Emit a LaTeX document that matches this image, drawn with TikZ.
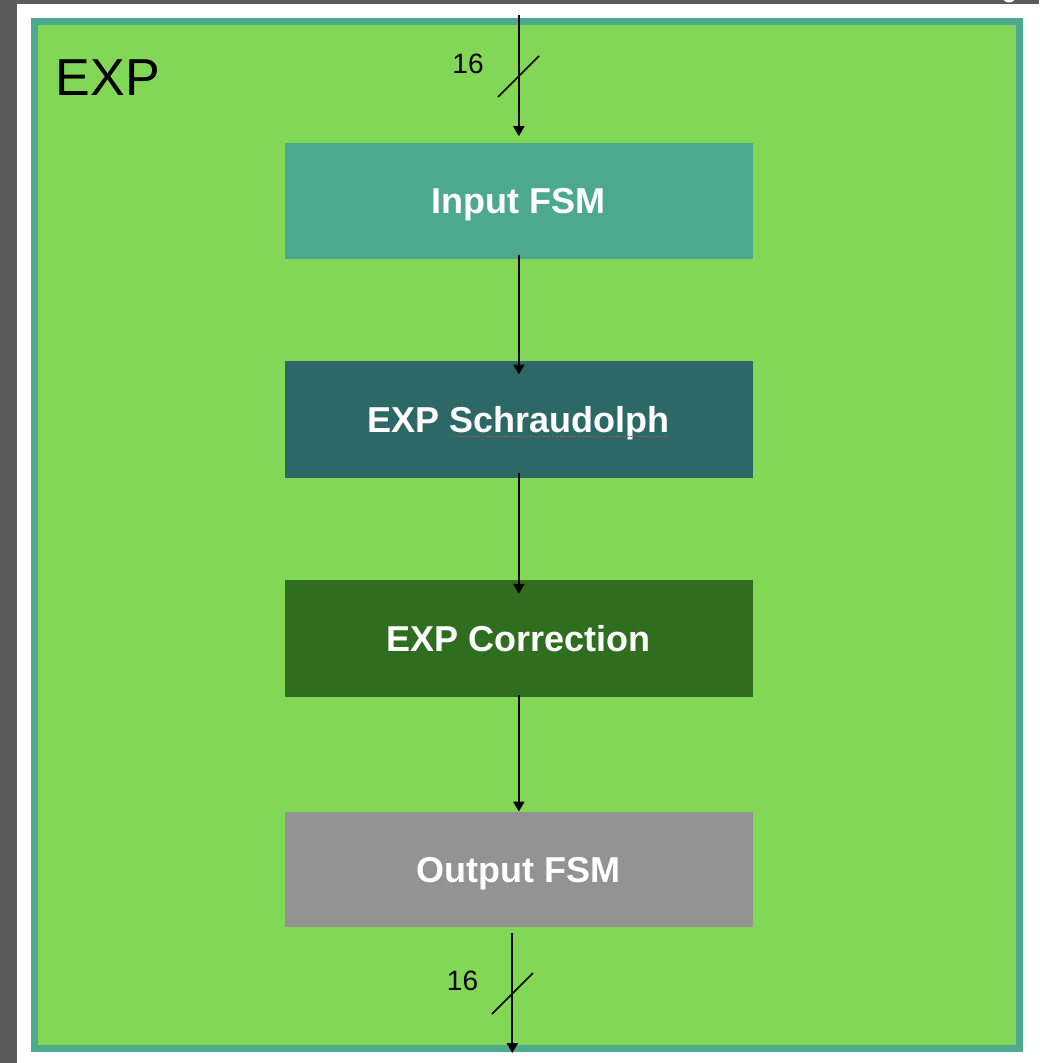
\documentclass[tikz,border=0pt]{standalone}
\usepackage{fontspec}
\setmainfont{Liberation Sans}
\usetikzlibrary{arrows.meta}

\definecolor{framegray}{HTML}{5B5B5B}
\definecolor{outline}{HTML}{4EAA8F}
\definecolor{expbg}{HTML}{83D756}
\definecolor{fsmin}{HTML}{4CA98F}
\definecolor{schr}{HTML}{2C6966}
\definecolor{corr}{HTML}{2F6E1E}
\definecolor{fsmout}{HTML}{939393}
\definecolor{spellred}{HTML}{C8483C}

\begin{document}
\begin{tikzpicture}[x=1pt,y=-1pt,
  block/.style={minimum width=468pt, minimum height=116pt, inner sep=0pt,
    text=white, text height=25.8pt, text depth=0pt,
    font=\fontsize{36}{40}\selectfont\bfseries},
  flow/.style={line width=2.1pt, -{Triangle[width=11pt,length=10pt]}},
  busmark/.style={line width=1.5pt},
  buswidth/.style={inner sep=0pt, text height=20pt, text depth=0pt,
    font=\fontsize{28}{32}\selectfont},
  spell/.style={spellred, line width=1.4pt, dash pattern=on 1.4pt off 1.4pt}]
\useasboundingbox (0,0) rectangle (1039,1063);
\fill[white] (0,0) rectangle (1039,1063);

% window edges
\fill[framegray] (0,0) rectangle (17,1063);
\fill[framegray] (0,0) rectangle (1039,3.5);
\begin{scope}
  \clip (0,0) rectangle (1039,1063);
  \fill[white] (1009,-4.5) circle (7);
\end{scope}

% EXP module
\draw[line width=6.7pt, draw=outline, fill=expbg] (34.35,21.35) rectangle (1019.35,1048.65);
\node[inner sep=0pt, text height=38pt, text depth=0pt,
  font=\fontsize{52}{60}\selectfont] (title) at (108,76) {EXP};

% pipeline stages
\node[block, fill=fsmin] (inp) at (518.85,201) {Input FSM};
\node[block, fill=schr, minimum height=117pt] (sch) at (518.85,419.2) {EXP Schraudolph};
\node[block, fill=corr, minimum height=117pt] (cor) at (518.85,638.5) {EXP Correction};
\node[block, fill=fsmout, minimum height=115.5pt] (out) at (518.85,869.5) {Output FSM};
\draw[spell] (451,436.5) -- (668,436.5);

% input bus
\coordinate (tin) at (518.85,15);
\draw[flow] (tin) -- ([yshift=6.6pt]inp.north);
\draw[busmark] (498,97) -- (539,56);
\node[buswidth] (win) at (468,63) {16};

% stage connections
\draw[flow] ([yshift=4.7pt]inp.south) -- ([yshift=-14pt]sch.north);
\draw[flow] ([yshift=4.7pt]sch.south) -- ([yshift=-14pt]cor.north);
\draw[flow] ([yshift=2pt]cor.south) -- (out.north);

% output bus
\coordinate (bout) at (512.3,1053);
\path (out.south -| bout) coordinate (b0);
\draw[flow] ([yshift=-5.7pt]b0) -- (bout);
\draw[busmark] (492,1014) -- (533,973);
\node[buswidth] (wout) at (462.5,980.5) {16};
\end{tikzpicture}
\end{document}
